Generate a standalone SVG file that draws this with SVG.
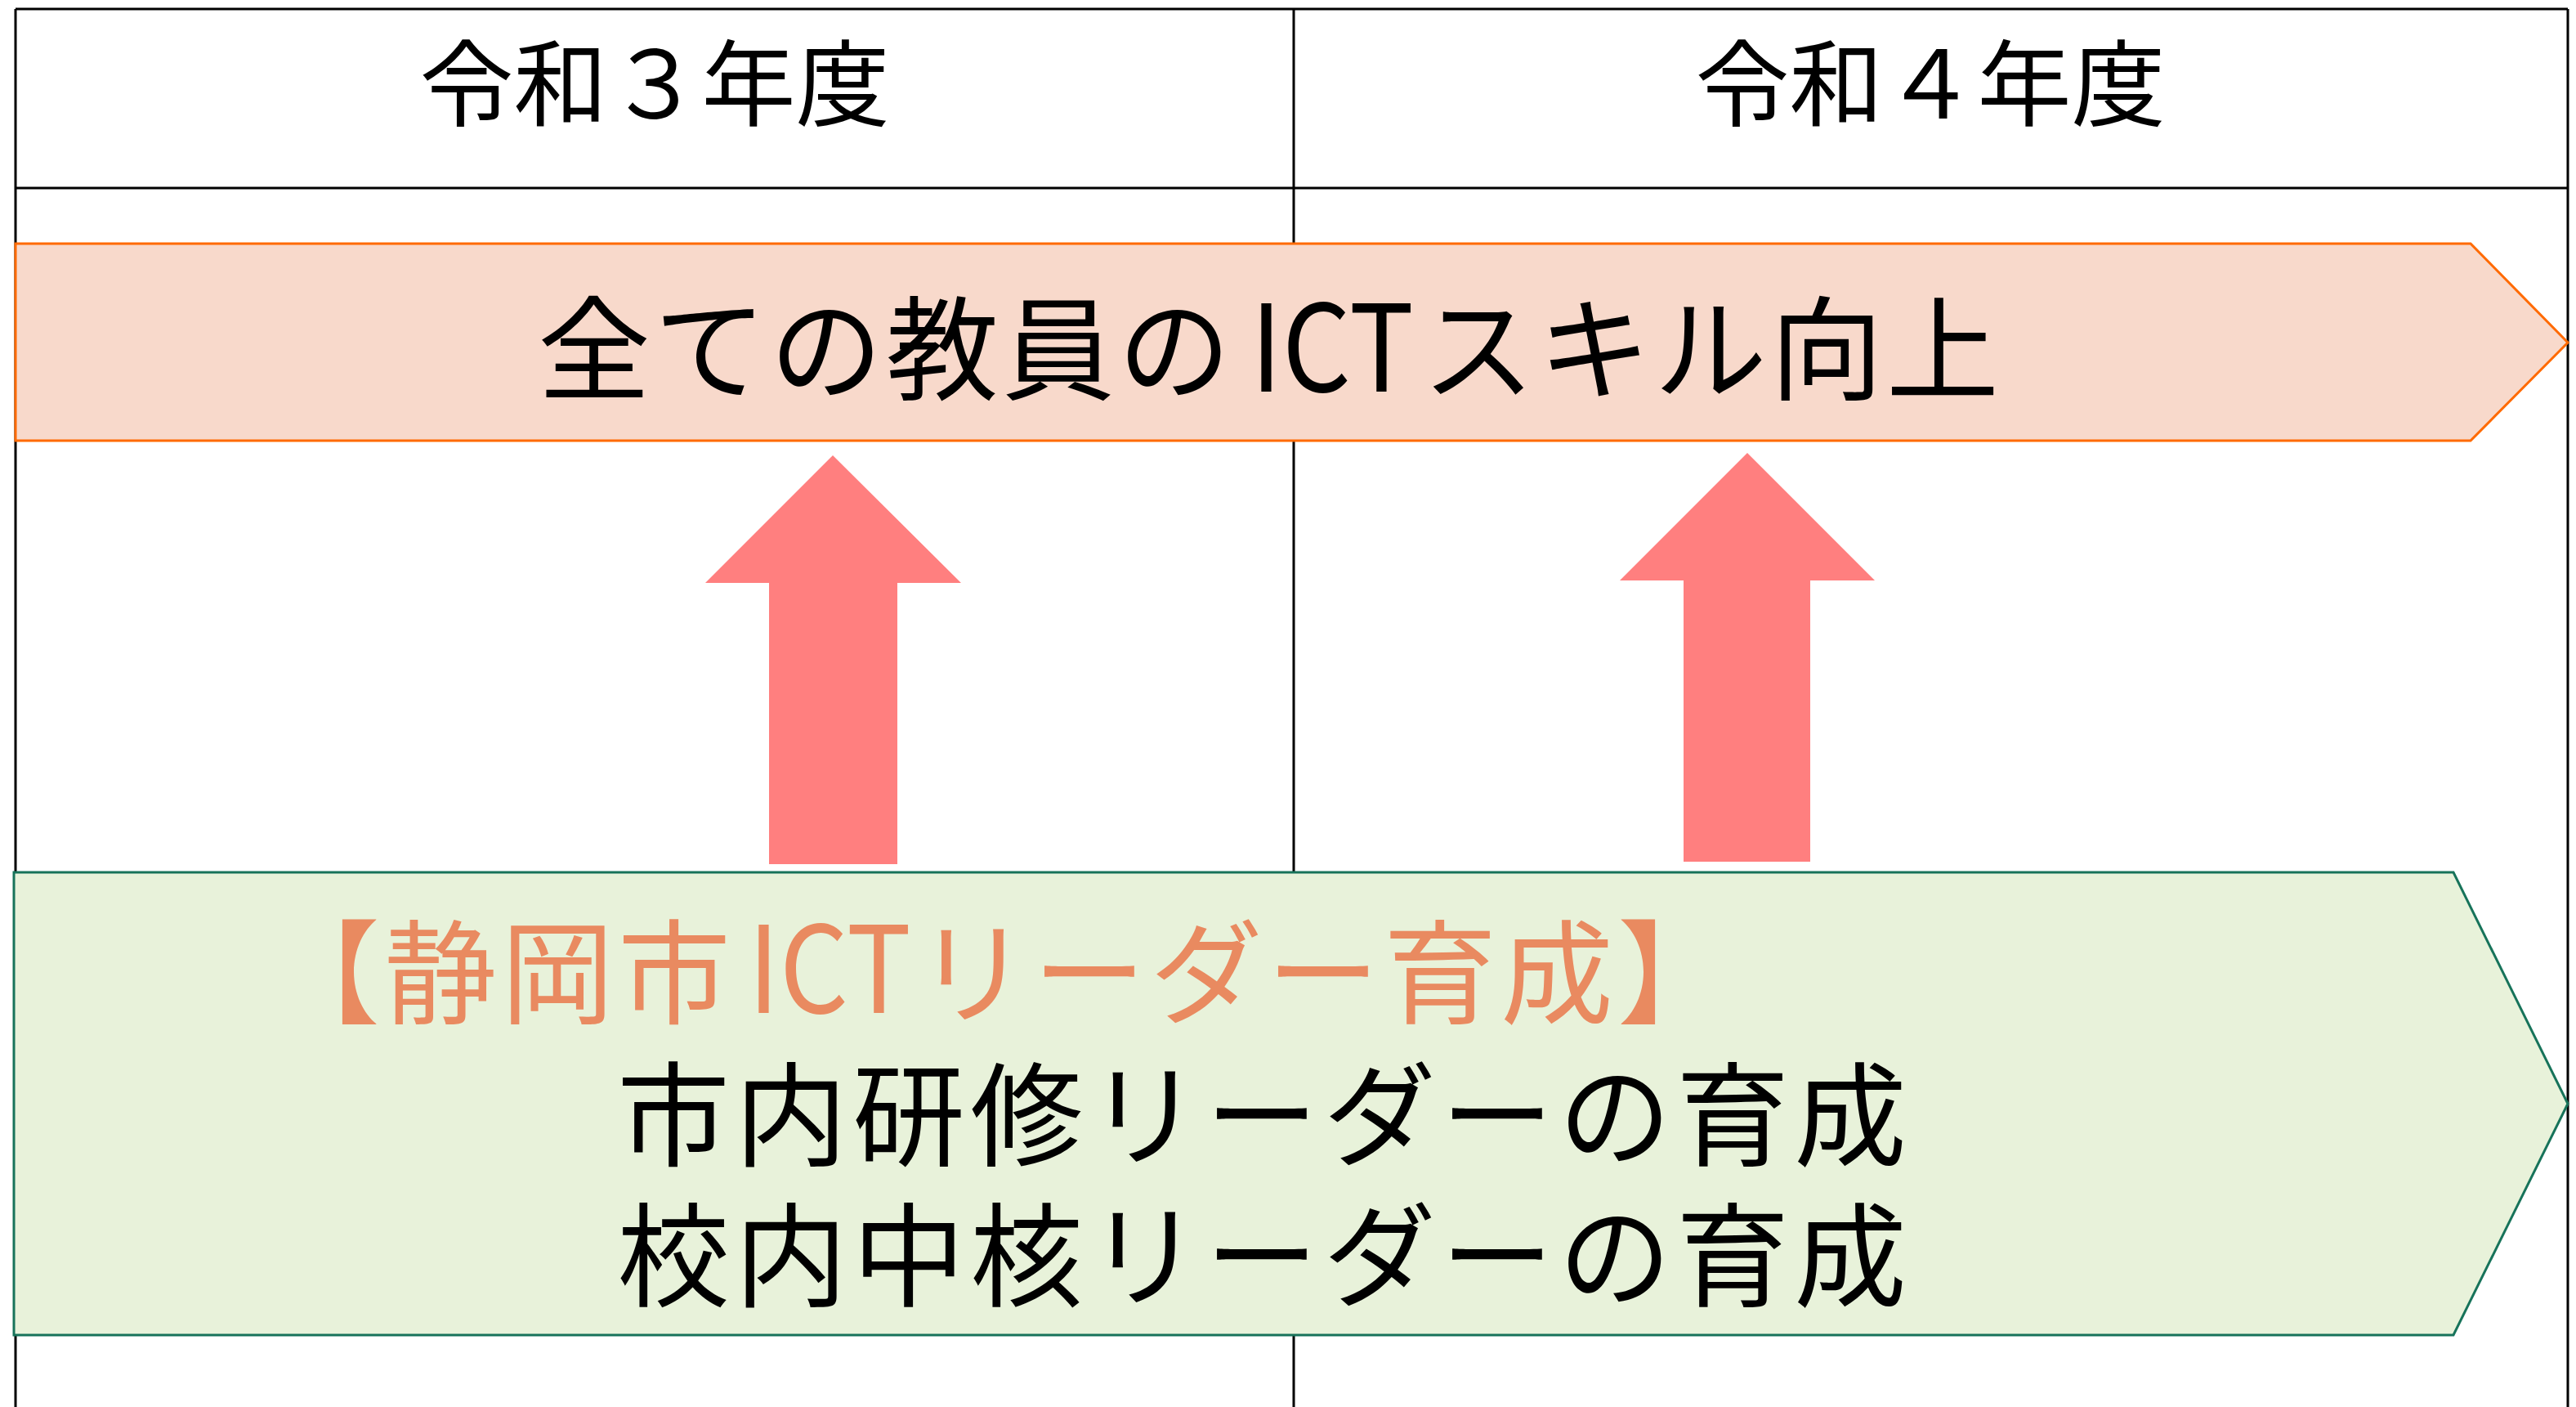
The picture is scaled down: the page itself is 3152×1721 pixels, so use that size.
<svg xmlns="http://www.w3.org/2000/svg" width="3152" height="1721" viewBox="0 0 3152 1721">
  <style>
    .grid { stroke: #000000; stroke-width: 3; fill: none; }
    .cjk { font-family: "Noto Sans CJK JP", "Noto Sans", sans-serif; }
    .head { font-size: 115px; fill: #000000; text-anchor: middle; }
    .big { font-size: 138px; fill: #000000; }
    .lat { font-size: 148px; }
    .orange { fill: #E98A60; }
    .pink { fill: #F8D9CB; stroke: #FF6A00; stroke-width: 3; }
    .green { fill: #E8F2DA; stroke: #17735A; stroke-width: 3; }
    .arrow { fill: #FF7F7F; }
  </style>
  <rect width="3152" height="1721" fill="#FFFFFF"/>

  <g id="table">
    <line class="grid" x1="19" y1="11" x2="3142" y2="11"/>
    <line class="grid" x1="19" y1="230" x2="3142" y2="230"/>
    <line class="grid" x1="19" y1="11" x2="19" y2="1721"/>
    <line class="grid" x1="1583" y1="11" x2="1583" y2="1721"/>
    <line class="grid" x1="3142" y1="11" x2="3142" y2="1721"/>
  </g>

  <g id="header-r3">
    <text class="cjk head" x="801" y="145">令和３年度</text>
  </g>
  <g id="header-r4">
    <text class="cjk head" x="2362" y="145">令和４年度</text>
  </g>

  <g id="goal">
    <polygon class="pink" points="19,298 3023,298 3142,419 3023,539 19,539"/>
    <text class="cjk big" x="658 800 942 1084 1226 1368" y="478">全ての教員の</text>
    <text class="cjk big lat" x="1530" y="479" textLength="200" lengthAdjust="spacingAndGlyphs">ICT</text>
    <text class="cjk big" x="1740 1882 2024 2166 2308" y="478">スキル向上</text>
  </g>

  <g id="leaders">
    <polygon class="green" points="17,1067 3002,1067 3142,1350 3002,1633 17,1633"/>
    <text class="cjk big orange" x="327 470 613 756" y="1241">【静岡市</text>
    <text class="cjk big lat orange" x="915" y="1239" textLength="200" lengthAdjust="spacingAndGlyphs">ICT</text>
    <text class="cjk big orange" x="1121 1264 1407 1550 1693 1836 1979" y="1241">リーダー育成】</text>
    <text class="cjk big" x="755 899 1043 1187 1331 1475 1619 1763 1907 2051 2195" y="1415">市内研修リーダーの育成</text>
    <text class="cjk big" x="755 899 1043 1187 1331 1475 1619 1763 1907 2051 2195" y="1587">校内中核リーダーの育成</text>
  </g>

  <g id="connectors">
    <polygon class="arrow" points="1019,557 1176,713 1098,713 1098,1057 941,1057 941,713 863,713"/>
    <polygon class="arrow" points="2138,554 2294,710 2215,710 2215,1054 2060,1054 2060,710 1982,710"/>
  </g>
</svg>
